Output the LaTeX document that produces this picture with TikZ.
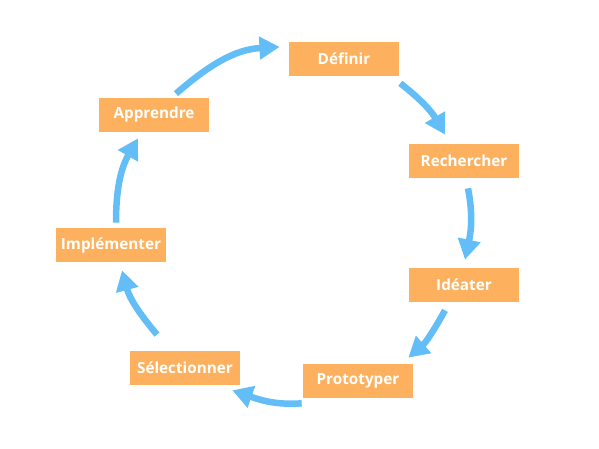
\documentclass[tikz,border=0pt]{standalone}
\usepackage{fontspec}
\setmainfont{Open Sans}
\usetikzlibrary{arrows.meta}
\definecolor{boxorange}{RGB}{253,177,94}
\definecolor{arrowblue}{RGB}{99,189,247}

\begin{document}
\begin{tikzpicture}[
    x=0.02cm, y=0.02cm,
    stage/.style={fill=boxorange, text=white, minimum width=2.2cm, minimum height=0.68cm, inner sep=0pt, font=\fontsize{8.7}{10}\selectfont\bfseries},
    arr/.style={-{Triangle[length=11.5pt, width=12.5pt]}, arrowblue, line width=3.7pt},
]
\useasboundingbox (0,0) rectangle (599,449);
% Nodes
\node[stage] (def) at (344,390) {Définir};
\node[stage] (rech) at (464,288) {Rechercher};
\node[stage] (ide) at (464,164) {Idéater};
\node[stage] (proto) at (358,68) {Prototyper};
\node[stage] (sel) at (185,81) {Sélectionner};
\node[stage] (impl) at (111,204) {Implémenter};
\node[stage] (appr) at (154,334) {Apprendre};

% Cycle arrows (clockwise)
\draw[arr] ([shift={(22,4)}]appr.north) to[out=41, in=183] ([shift={(-9,12)}]def.west);
\draw[arr] ([shift={(1,-7)}]def.south east) to[out=-38, in=120] ([shift={(-19,9)}]rech.north);
\draw[arr] ([shift={(4,-10)}]rech.south) to[out=-79, in=78] ([shift={(1,8)}]ide.north);
\draw[arr] ([shift={(-19,-8)}]ide.south) to[out=-119, in=41] ([shift={(-5,6)}]proto.north east);
\draw[arr] ([shift={(-1,-5)}]proto.south west) to[out=184, in=-19] ([shift={(-8,-5)}]sel.south east);
\draw[arr] ([shift={(-28,16)}]sel.north) to[out=130, in=-75] ([shift={(11,-8)}]impl.south);
\draw[arr] ([shift={(5,5)}]impl.north) to[out=90, in=240] ([shift={(-16,-6)}]appr.south);
\end{tikzpicture}
\end{document}
